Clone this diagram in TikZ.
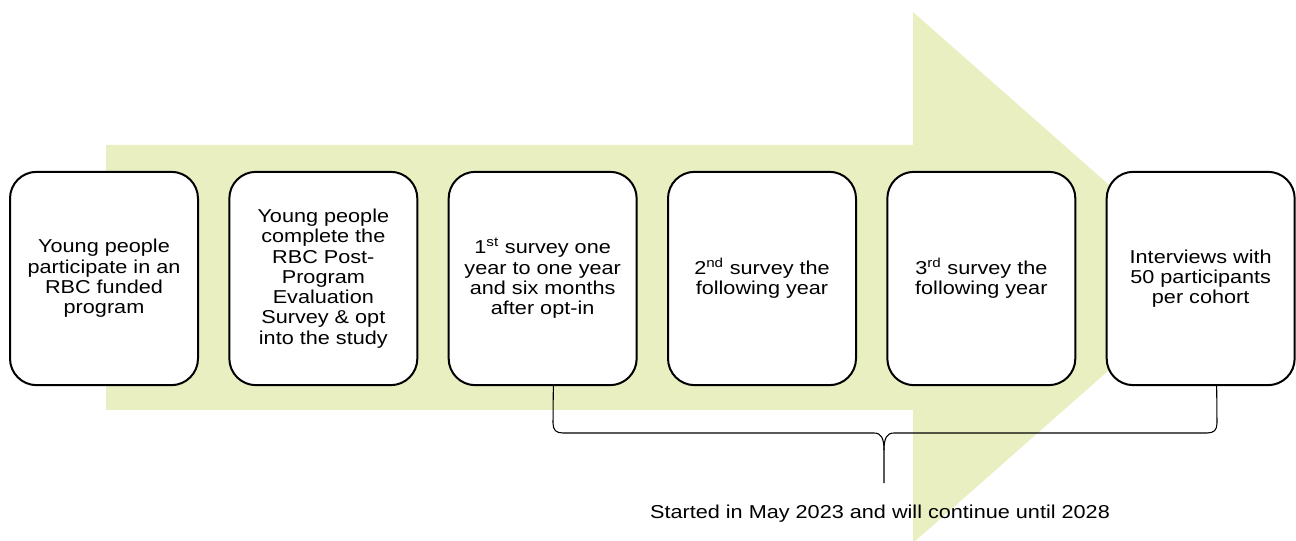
\documentclass[tikz,border=0pt]{standalone}
\usepackage{fontspec}
\setmainfont{Liberation Sans}[FakeStretch=1.16]
\usetikzlibrary{positioning}
\definecolor{arrowfill}{RGB}{234,239,193}

\begin{document}
\begin{tikzpicture}[x=0.75pt,y=-0.75pt,node distance=164.5pt]
\tikzstyle{box} = [rectangle,rounded corners=20pt,draw=black,line width=1.5pt,fill=white,minimum width=141pt,minimum height=160pt,align=center,font=\fontsize{14}{15.2}\selectfont]
\tikzstyle{brace} = [draw=black,line width=0.8pt]

\useasboundingbox (0,0) rectangle (1296,541);

% big arrow behind the steps
\fill[arrowfill] (106,145) -- (913,145) -- (913,12) -- (1214,277.5) -- (913,543) -- (913,410) -- (106,410) -- cycle;

\node[box](participate) at (104,278.5)	{Young people\\participate in an\\RBC funded\\program};
\node[box](optin)[right of=participate]	{Young people\\complete the\\RBC Post-\\Program\\Evaluation\\Survey \& opt\\into the study};
\node[box](survey1)[right of=optin]	{1\textsuperscript{st} survey one\\year to one year\\and six months\\after opt-in};
\node[box](survey2)[right of=survey1]	{2\textsuperscript{nd} survey the\\following year};
\node[box](survey3)[right of=survey2]	{3\textsuperscript{rd} survey the\\following year};
\node[box](interviews)[right of=survey3]	{Interviews with\\50 participants\\per cohort};

\coordinate (bl) at ([xshift=8pt]survey1.south);
\coordinate (br) at ([xshift=12pt]interviews.south);
\coordinate (tip) at (884,483);

% brace under the follow-up steps
\draw[brace] (bl) -- (553,423) .. controls (553,430) and (556,433) .. (563,433) -- (874,433) .. controls (881,433) and (884,438) .. (884,450) -- (tip);
\draw[brace] (br) -- (1217,423) .. controls (1217,430) and (1214,433) .. (1207,433) -- (894,433) .. controls (887,433) and (884,438) .. (884,450);

\node(period) at (880,514) [font=\fontsize{14}{15.2}\selectfont] {Started in May 2023 and will continue until 2028};

\end{tikzpicture}
\end{document}
